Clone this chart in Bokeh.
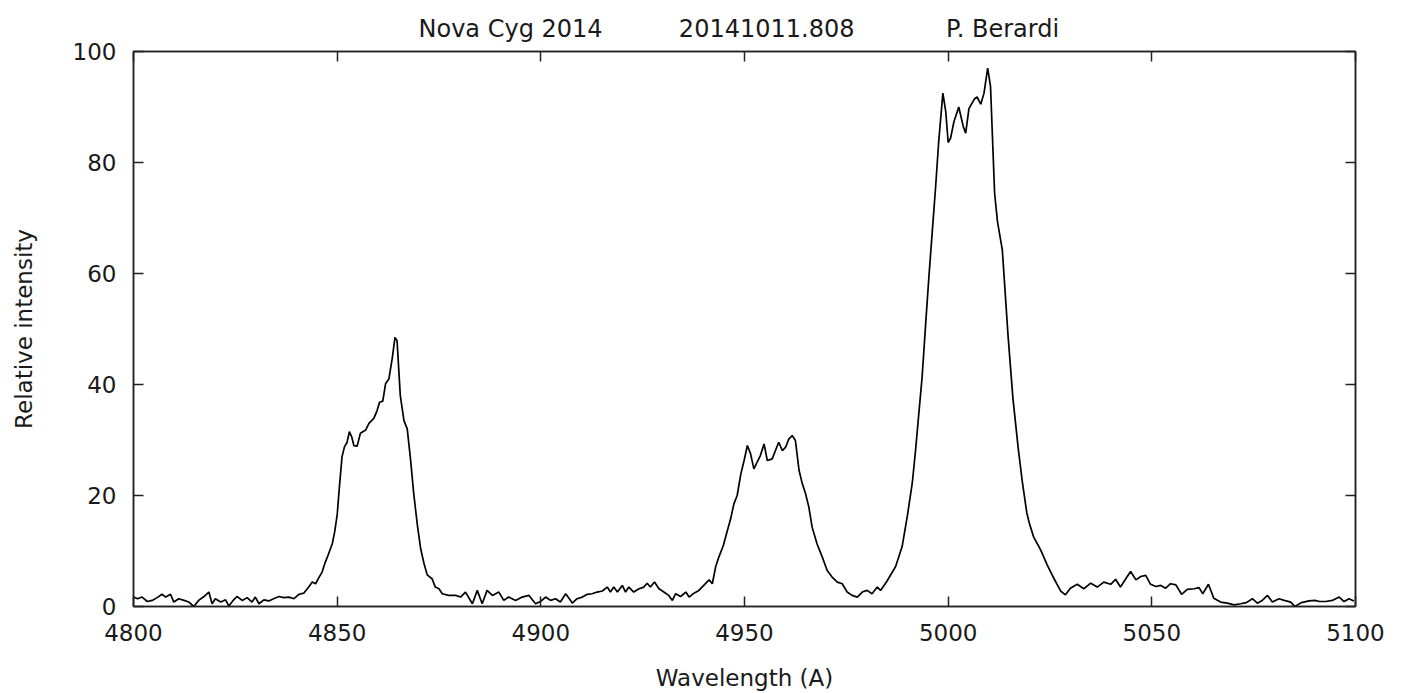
from bokeh.plotting import figure
from bokeh.models import LinearAxis, Title, FixedTicker, Range1d
from bokeh.embed import file_html
from bokeh.resources import INLINE

# ---- data ----
wavelength = [
    4800.0, 4801.0, 4802.1, 4803.4, 4804.6, 4805.8, 4807.0, 4807.9, 4809.1, 4809.9,
    4811.1, 4812.4, 4813.6, 4814.8, 4816.0, 4817.3, 4818.5, 4819.3, 4820.1, 4821.4,
    4822.6, 4823.4, 4824.6, 4825.4, 4826.7, 4827.9, 4829.1, 4829.9, 4830.8, 4832.0,
    4833.2, 4834.4, 4835.7, 4836.9, 4838.1, 4839.4, 4840.6, 4841.8, 4843.0, 4843.9,
    4844.7, 4845.5, 4846.3, 4847.1, 4847.9, 4848.8, 4849.4, 4850.0, 4850.6, 4851.2,
    4851.8, 4852.4, 4853.0, 4853.6, 4854.1, 4854.9, 4855.7, 4857.0, 4857.8, 4859.0,
    4859.8, 4860.4, 4861.2, 4861.9, 4862.7, 4863.5, 4864.2, 4864.7, 4865.5, 4866.4,
    4867.2, 4868.0, 4868.8, 4869.7, 4870.5, 4871.3, 4872.1, 4873.3, 4874.1, 4875.0,
    4875.8, 4877.4, 4879.1, 4880.3, 4881.5, 4883.2, 4884.4, 4885.6, 4886.8, 4888.1,
    4889.7, 4890.9, 4892.1, 4893.8, 4895.4, 4897.1, 4898.7, 4899.9, 4901.2, 4902.4,
    4903.6, 4904.8, 4906.1, 4907.3, 4907.7, 4908.9, 4910.2, 4911.4, 4912.6, 4913.8,
    4915.1, 4916.3, 4917.1, 4917.9, 4918.8, 4920.0, 4920.8, 4921.6, 4922.8, 4924.1,
    4925.3, 4926.1, 4926.9, 4927.9, 4929.0, 4930.2, 4931.4, 4932.3, 4933.1, 4934.3,
    4935.6, 4936.4, 4937.6, 4938.8, 4940.0, 4941.3, 4942.1, 4942.9, 4943.7, 4944.8,
    4945.8, 4946.6, 4947.4, 4948.2, 4949.1, 4949.9, 4950.7, 4951.5, 4952.3, 4953.1,
    4953.9, 4954.8, 4955.6, 4956.8, 4957.6, 4958.4, 4959.3, 4960.1, 4960.9, 4961.7,
    4962.5, 4963.4, 4964.2, 4965.0, 4965.8, 4966.6, 4967.8, 4969.1, 4970.3, 4971.5,
    4972.8, 4974.0, 4975.2, 4976.4, 4977.7, 4978.9, 4980.1, 4981.3, 4982.6, 4983.4,
    4985.0, 4987.1, 4988.7, 4990.0, 4991.2, 4992.0, 4992.8, 4993.6, 4994.5, 4995.3,
    4996.1, 4996.9, 4997.7, 4998.7, 4999.4, 5000.0, 5000.6, 5001.4, 5002.6, 5003.7,
    5004.3, 5005.1, 5006.5, 5007.1, 5008.0, 5008.8, 5009.7, 5010.4, 5011.4, 5012.1,
    5013.3, 5014.7, 5015.9, 5017.2, 5018.2, 5019.3, 5020.0, 5021.0, 5022.7, 5024.3,
    5026.0, 5027.6, 5028.8, 5030.0, 5031.7, 5033.3, 5035.0, 5036.6, 5038.2, 5039.9,
    5041.1, 5042.3, 5043.6, 5044.8, 5046.1, 5047.3, 5048.5, 5049.7, 5051.0, 5052.2,
    5053.4, 5054.6, 5055.9, 5057.3, 5058.7, 5060.4, 5061.6, 5062.5, 5063.9, 5065.2,
    5066.9, 5068.5, 5070.2, 5071.8, 5073.2, 5074.7, 5075.9, 5077.1, 5078.4, 5079.6,
    5081.2, 5082.5, 5084.1, 5085.1, 5086.7, 5088.6, 5090.0, 5091.2, 5092.7, 5094.3,
    5096.0, 5097.2, 5098.4, 5099.6,
]
intensity = [
    1.7, 1.4, 1.7, 0.9, 1.1, 1.6, 2.2, 1.7, 2.2, 0.8,
    1.4, 1.1, 0.8, 0.0, 1.1, 1.8, 2.6, 0.5, 1.4, 0.8,
    1.2, 0.1, 1.2, 1.8, 1.1, 1.6, 0.8, 1.7, 0.5, 1.2,
    1.0, 1.4, 1.8, 1.6, 1.7, 1.4, 2.2, 2.4, 3.5, 4.4,
    4.1, 5.2, 6.2, 8.0, 9.5, 11.3, 13.5, 16.5, 22.0, 27.0,
    28.8, 29.5, 31.5, 30.5, 29.0, 28.9, 31.2, 31.8, 33.0, 33.9,
    35.3, 36.8, 37.0, 40.2, 41.0, 44.6, 48.5, 47.9, 38.0, 33.5,
    32.0, 26.6, 20.3, 14.6, 10.4, 7.8, 5.7, 5.0, 3.5, 3.2,
    2.3, 2.0, 2.0, 1.7, 2.6, 0.5, 2.9, 0.5, 2.9, 2.0,
    2.6, 1.1, 1.7, 1.1, 1.7, 2.0, 0.5, 0.9, 1.7, 1.1,
    1.4, 0.8, 2.3, 1.1, 0.6, 1.4, 1.7, 2.2, 2.3, 2.6,
    2.8, 3.5, 2.6, 3.5, 2.6, 3.8, 2.6, 3.5, 2.6, 3.2,
    3.5, 4.2, 3.5, 4.4, 3.2, 2.6, 2.0, 1.1, 2.3, 1.8,
    2.6, 1.7, 2.4, 2.9, 3.8, 4.8, 4.1, 7.1, 8.9, 11.0,
    13.7, 15.8, 18.5, 20.0, 23.9, 26.3, 29.0, 27.5, 24.8, 26.0,
    27.2, 29.3, 26.3, 26.6, 28.1, 29.6, 28.1, 28.7, 30.2, 30.8,
    29.9, 24.5, 22.1, 20.3, 17.9, 14.3, 11.3, 8.9, 6.5, 5.3,
    4.4, 4.1, 2.6, 2.0, 1.7, 2.6, 2.9, 2.3, 3.5, 2.9,
    4.6, 7.2, 10.8, 16.4, 22.3, 28.2, 34.8, 41.3, 51.2, 59.7,
    67.6, 75.4, 84.0, 92.5, 89.2, 83.6, 84.4, 87.3, 90.0, 86.5,
    85.3, 89.7, 91.5, 91.8, 90.5, 92.5, 97.0, 93.7, 74.5, 69.4,
    64.2, 48.8, 37.5, 28.5, 22.5, 16.9, 14.8, 12.5, 10.2, 7.5,
    5.0, 2.8, 2.1, 3.3, 4.0, 3.2, 4.2, 3.5, 4.4, 4.0,
    4.9, 3.5, 5.0, 6.3, 4.8, 5.4, 5.6, 4.0, 3.6, 3.8,
    3.3, 4.1, 3.9, 2.2, 3.1, 3.2, 3.4, 2.3, 4.0, 1.5,
    0.8, 0.6, 0.3, 0.5, 0.7, 1.4, 0.6, 1.1, 2.0, 0.8,
    1.4, 1.1, 0.8, 0.0, 0.7, 1.0, 1.1, 0.9, 0.9, 1.1,
    1.7, 0.9, 1.4, 1.0,
]
x_ticks = [4800, 4850, 4900, 4950, 5000, 5050, 5100]
y_ticks = [0, 20, 40, 60, 80, 100]
title_parts = ["Nova Cyg 2014", "20141011.808", "P. Berardi"]
x_label = "Wavelength (A)"
y_label = "Relative intensity"

FONT = "DejaVu Sans"
TXT = "#1a1a1a"
FS = "23px"
NB = "\u00a0"

p = figure(
    frame_width=1222, frame_height=555,
    min_border_left=133, min_border_right=52, min_border_top=51, min_border_bottom=87,
    x_range=Range1d(4800, 5100), y_range=Range1d(0, 100),
    output_backend="svg", toolbar_location=None,
    background_fill_color="white", border_fill_color="white",
)
p.xgrid.visible = False
p.ygrid.visible = False
p.outline_line_color = "#222222"
p.outline_line_width = 1.5

p.line(wavelength, intensity, line_color="black", line_width=1.7)


def style_axis(ax, show_labels):
    ax.axis_line_color = "#222222"
    ax.axis_line_width = 1.5
    ax.major_tick_in = 10
    ax.major_tick_out = 0
    ax.major_tick_line_color = "#222222"
    ax.major_tick_line_width = 1.5
    ax.minor_tick_line_color = None
    ax.major_label_text_font = FONT
    if show_labels:
        ax.major_label_text_color = TXT
        ax.major_label_text_font_size = FS
        ax.major_label_standoff = 17
    else:
        ax.major_label_text_color = None
        ax.major_label_text_font_size = "1px"
        ax.major_label_standoff = 0


xb = p.xaxis[0]
xb.ticker = FixedTicker(ticks=x_ticks)
style_axis(xb, True)
xb.axis_label = x_label
xb.axis_label_text_font = FONT
xb.axis_label_text_font_size = FS
xb.axis_label_text_font_style = "normal"
xb.axis_label_text_color = TXT
xb.axis_label_standoff = 21

yl = p.yaxis[0]
yl.ticker = FixedTicker(ticks=y_ticks)
style_axis(yl, True)
yl.axis_label = y_label
yl.axis_label_text_font = FONT
yl.axis_label_text_font_size = FS
yl.axis_label_text_font_style = "normal"
yl.axis_label_text_color = TXT
yl.axis_label_standoff = 33

xt = LinearAxis(ticker=FixedTicker(ticks=x_ticks))
style_axis(xt, False)
p.add_layout(xt, "above")
yr = LinearAxis(ticker=FixedTicker(ticks=y_ticks))
style_axis(yr, False)
p.add_layout(yr, "right")

# title: three pieces on one line, separated by non-breaking spaces
title_text = title_parts[0] + NB * 10 + title_parts[1] + NB * 12 + title_parts[2]
p.add_layout(Title(text=title_text, align="left", offset=285, standoff=18,
                   text_font=FONT, text_font_size="24px", text_font_style="normal",
                   text_color=TXT), "above")

open("out.html", "w").write(file_html(p, INLINE))
